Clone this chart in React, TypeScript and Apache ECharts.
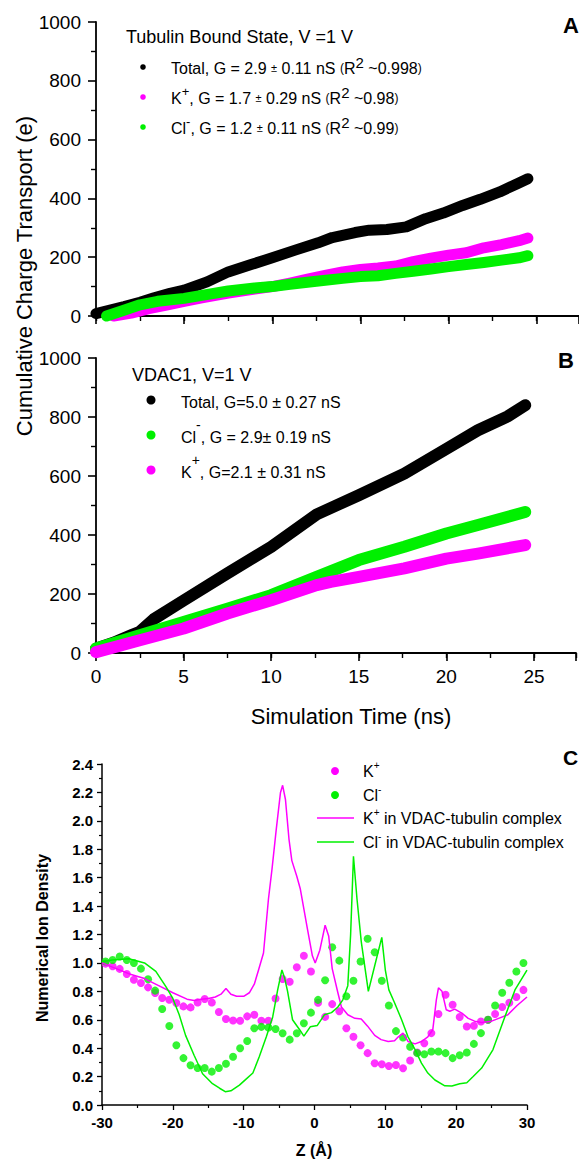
import React, { useEffect, useRef } from "react";
import * as echarts from "echarts";

const FONT = "'Liberation Sans', Arial, Helvetica, sans-serif";
const MAG = "#ff00ff";
const GRN = "#00f000";

// Panel A: tubulin bound state (time ns, charge e)
const aTotalT = [0, 0.8, 1.6, 2.5, 3.3, 4.2, 5, 6.3, 7.5, 8.8, 10, 11.3, 12.6, 13.4, 14.7, 15.5, 16.5, 17.6, 18.7, 19.7, 20.8, 21.8, 22.9, 23.9, 24.5];
const aTotalV = [8, 20, 32, 47, 62, 77, 88, 116, 150, 175, 198, 224, 249, 267, 284, 292, 294, 303, 331, 350, 376, 397, 422, 450, 467];
const aKT = [1, 2, 3, 4, 5, 6, 7.5, 9, 10, 11, 12, 13, 14, 15, 16, 17, 18, 19, 20, 21, 22, 23, 24, 24.5];
const aKV = [0, 10, 25, 37, 50, 62, 78, 92, 100, 112, 125, 138, 150, 158, 163, 170, 185, 197, 207, 215, 232, 243, 256, 265];
const aClT = [0.6, 1.5, 2.5, 3.5, 5, 6, 7.5, 9, 10, 11, 12.5, 14, 15, 16, 17, 18, 19, 20, 21, 22, 23, 24, 24.5];
const aClV = [0, 18, 38, 50, 60, 70, 85, 95, 100, 108, 118, 128, 134, 137, 145, 152, 160, 168, 175, 182, 190, 198, 205];

// Panel B: VDAC1
const bTotalT = [0, 1, 2, 2.5, 3.3, 5, 7.5, 10, 11.3, 12.6, 15, 17.6, 20, 21.8, 23.5, 24.5];
const bTotalV = [15, 35, 60, 72, 115, 178, 270, 360, 415, 470, 535, 608, 692, 755, 802, 840];
const bClT = [0, 2.5, 5, 7.5, 10, 12.6, 15, 17.6, 20, 21.8, 24.5];
const bClV = [15, 60, 105, 150, 196, 258, 315, 360, 405, 434, 478];
const bKT = [0, 2.5, 5, 7.5, 10, 12.6, 13.4, 15, 17.6, 20, 21.8, 24.5];
const bKV = [3, 43, 83, 134, 179, 230, 241, 258, 287, 320, 337, 366];

// Panel C: numerical ion density vs Z (Å)
const zBins = [-29.5, -28.5, -27.5, -26.5, -25.5, -24.5, -23.5, -22.5, -21.5, -20.5, -19.5, -18.5, -17.5, -16.5, -15.5, -14.5, -13.5, -12.5, -11.5, -10.5, -9.5, -8.5, -7.5, -6.5, -5.5, -4.5, -3.5, -2.5, -1.5, -0.5, 0.5, 1.5, 2.5, 3.5, 4.5, 5.5, 6.5, 7.5, 8.5, 9.5, 10.5, 11.5, 12.5, 13.5, 14.5, 15.5, 16.5, 17.5, 18.5, 19.5, 20.5, 21.5, 22.5, 23.5, 24.5, 25.5, 26.5, 27.5, 28.5, 29.5];
const kDots = [0.995, 0.976, 0.958, 0.922, 0.882, 0.859, 0.828, 0.788, 0.753, 0.741, 0.718, 0.694, 0.687, 0.722, 0.746, 0.722, 0.654, 0.605, 0.595, 0.593, 0.624, 0.635, 0.593, 0.593, 0.75, 0.887, 0.868, 0.969, 1.05, 0.94, 0.72, 0.62, 0.71, 0.66, 0.54, 0.48, 0.42, 0.365, 0.294, 0.287, 0.275, 0.282, 0.259, 0.313, 0.37, 0.435, 0.506, 0.64, 0.776, 0.706, 0.619, 0.553, 0.558, 0.588, 0.6, 0.64, 0.69, 0.72, 0.76, 0.81];
const clDots = [1.01, 1.02, 1.045, 1.02, 1.0, 0.96, 0.885, 0.805, 0.676, 0.556, 0.42, 0.33, 0.28, 0.26, 0.26, 0.235, 0.26, 0.29, 0.34, 0.4, 0.45, 0.54, 0.55, 0.545, 0.535, 0.505, 0.46, 0.505, 0.575, 0.65, 0.74, 0.878, 1.11, 1.016, 0.765, 0.875, 1.01, 1.17, 1.075, 0.875, 0.7, 0.52, 0.475, 0.41, 0.365, 0.357, 0.376, 0.376, 0.365, 0.33, 0.35, 0.37, 0.43, 0.506, 0.6, 0.7, 0.79, 0.86, 0.94, 1.0];
const kLineZ = [-30, -28, -26, -24, -22, -20, -18, -17, -16, -15, -14, -13.2, -12.5, -11.8, -11, -10, -9.2, -8.5, -7.9, -7.2, -6.5, -6, -5.4, -4.8, -4.5, -4.1, -3.6, -3.2, -2.5, -2, -1, -0.3, 0.1, 0.75, 1.5, 2, 2.5, 3.3, 3.8, 4.7, 5.7, 6.6, 7.5, 8.5, 9.4, 10.4, 11.3, 11.8, 12.5, 13.2, 14.2, 15.1, 16, 16.7, 17.2, 17.5, 18, 18.6, 19.1, 19.8, 20.8, 21.7, 22.6, 23.6, 25, 26, 27.3, 28.6, 30];
const kLineV = [1.0, 0.96, 0.92, 0.89, 0.84, 0.79, 0.745, 0.735, 0.745, 0.75, 0.76, 0.78, 0.82, 0.78, 0.765, 0.765, 0.79, 0.85, 0.95, 1.07, 1.45, 1.66, 1.94, 2.2, 2.25, 2.15, 1.87, 1.72, 1.61, 1.52, 1.24, 1.05, 1.0, 1.09, 1.265, 1.19, 0.96, 0.79, 0.69, 0.635, 0.61, 0.605, 0.555, 0.49, 0.46, 0.447, 0.452, 0.478, 0.506, 0.447, 0.43, 0.447, 0.48, 0.53, 0.74, 0.825, 0.8, 0.67, 0.66, 0.675, 0.647, 0.61, 0.59, 0.58, 0.59, 0.61, 0.635, 0.7, 0.76];
const clLineZ = [-30, -28.5, -26.2, -24, -22.4, -21, -20, -19.1, -18.2, -17, -15.8, -14.4, -13.4, -12.6, -11.8, -10.6, -9.7, -8.7, -7.8, -6.8, -5.9, -5.2, -4.6, -4.2, -3.8, -3.1, -2.1, -1.5, -0.6, 0.4, 1.4, 2.4, 3.3, 4.0, 4.7, 5.1, 5.5, 6.0, 6.6, 7.6, 8.5, 9.5, 10.0, 10.5, 11.3, 12.3, 13.2, 14.2, 15.1, 16, 17, 18.4, 19.4, 20.5, 21.5, 22.4, 23.6, 25.2, 26.8, 28.3, 30];
const clLineV = [1.01, 1.02, 1.03, 1.0, 0.94, 0.835, 0.75, 0.635, 0.49, 0.35, 0.22, 0.15, 0.118, 0.094, 0.1, 0.14, 0.18, 0.225, 0.34, 0.48, 0.62, 0.81, 0.95, 0.89, 0.8, 0.6, 0.53, 0.485, 0.55, 0.56, 0.635, 0.65, 0.69, 0.74, 0.84, 1.2, 1.75, 1.45, 1.15, 0.8, 0.98, 1.18, 0.95, 0.81, 0.72, 0.6, 0.48, 0.39, 0.295, 0.225, 0.176, 0.135, 0.134, 0.15, 0.157, 0.2, 0.26, 0.39, 0.61, 0.81, 0.95];

const zip = (xs: number[], ys: number[]) => xs.map((x, i) => [x, ys[i]]);

const txt = (x: number, y: number, text: string, size: number, opts: any = {}) => ({
  type: "text",
  x,
  y,
  rotation: opts.rotation || 0,
  style: {
    text,
    fill: "#000",
    fontSize: size,
    fontFamily: FONT,
    fontWeight: opts.bold ? "bold" : "normal",
    align: opts.align || "left",
    verticalAlign: "middle",
    textAlign: opts.align || "left",
    textVerticalAlign: "middle",
    rich: opts.rich,
  },
});

const richA = {
  n: { fontSize: 16, fontFamily: FONT, fill: "#000", lineHeight: 26 },
  s: { fontSize: 11, fontFamily: FONT, fill: "#000", lineHeight: 26 },
  p: { fontSize: 12, fontFamily: FONT, fill: "#000", lineHeight: 26 },
  u: { fontSize: 15, fontFamily: FONT, fill: "#000", verticalAlign: "top", lineHeight: 15 },
  k: { fontSize: 13, fontFamily: FONT, fill: "#000", verticalAlign: "top", lineHeight: 13 },
};
const richB = {
  n: { fontSize: 16, fontFamily: FONT, fill: "#000", lineHeight: 38 },
  k: { fontSize: 14, fontFamily: FONT, fill: "#000", verticalAlign: "top", lineHeight: 14 },
};
const richC = {
  n: { fontSize: 16, fontFamily: FONT, fill: "#000", lineHeight: 22 },
  k: { fontSize: 10, fontFamily: FONT, fill: "#000", verticalAlign: "top", lineHeight: 10 },
};

const abYAxis = (gridIndex: number) => ({
  type: "value",
  gridIndex,
  min: 0,
  max: 1000,
  interval: 200,
  axisLine: { show: true, lineStyle: { color: "#000", width: 1.8 } },
  axisTick: { show: true, inside: false, length: 8, lineStyle: { color: "#000", width: 1.6 } },
  minorTick: { show: true, splitNumber: 2, length: 5, lineStyle: { color: "#000", width: 1.4 } },
  splitLine: { show: false },
  minorSplitLine: { show: false },
  axisLabel: {
    show: true,
    fontSize: 19,
    fontFamily: FONT,
    color: "#000",
    margin: 15,
    formatter: (v: number) => String(v),
  },
});

const abXAxis = (gridIndex: number, major: boolean, labels: boolean) => ({
  type: "value",
  gridIndex,
  position: "bottom",
  offset: 0,
  min: 0,
  max: 27.4,
  interval: major ? 5 : 2.5,
  axisLine: { show: major, onZero: false, lineStyle: { color: "#000", width: 1.8 } },
  axisTick: { show: true, inside: false, length: major ? 8 : 5, lineStyle: { color: "#000", width: major ? 1.6 : 1.4 } },
  splitLine: { show: false },
  axisLabel: {
    show: labels,
    fontSize: 19,
    fontFamily: FONT,
    color: "#000",
    margin: 14,
    formatter: (v: number) => (Math.abs(v % 5) < 1e-6 && v <= 25 ? String(v) : ""),
  },
});

const band = (name: string, data: number[][], color: string, xi: number, yi: number, w: number) => ({
  name,
  type: "line",
  xAxisIndex: xi,
  yAxisIndex: yi,
  data,
  showSymbol: false,
  clip: false,
  smooth: false,
  lineStyle: { color, width: w, cap: "round", join: "round" },
  itemStyle: { color },
});

export default function App() {
  const ref = useRef<HTMLDivElement>(null);
  useEffect(() => {
    const chart = echarts.init(ref.current!, null, { renderer: "svg" });
    const option: any = {
      animation: false,
      backgroundColor: "#fff",
      grid: [
        { left: 96, right: 0, top: 22, height: 294 },
        { left: 96, right: 0, top: 358, height: 295 },
        { left: 102, width: 425, top: 764, height: 341 },
      ],
      xAxis: [
        abXAxis(0, true, false),
        abXAxis(0, false, false),
        abXAxis(1, true, true),
        abXAxis(1, false, false),
        {
          type: "value",
          gridIndex: 2,
          position: "bottom",
          min: -30,
          max: 30,
          interval: 10,
          axisLine: { show: true, onZero: false, lineStyle: { color: "#000", width: 1.5 } },
          axisTick: { show: true, inside: false, length: 5, lineStyle: { color: "#000", width: 1.3 } },
          minorTick: { show: true, splitNumber: 2, length: 3, lineStyle: { color: "#000", width: 1.2 } },
          splitLine: { show: false },
          axisLabel: { fontSize: 15, fontWeight: "bold", fontFamily: FONT, color: "#000", margin: 10 },
        },
      ],
      yAxis: [
        abYAxis(0),
        abYAxis(1),
        {
          type: "value",
          gridIndex: 2,
          min: 0,
          max: 2.4,
          interval: 0.2,
          axisLine: { show: true, onZero: false, lineStyle: { color: "#000", width: 1.5 } },
          axisTick: { show: true, inside: false, length: 5, lineStyle: { color: "#000", width: 1.3 } },
          minorTick: { show: true, splitNumber: 2, length: 3, lineStyle: { color: "#000", width: 1.2 } },
          splitLine: { show: false },
          axisLabel: {
            fontSize: 15,
            fontWeight: "bold",
            fontFamily: FONT,
            color: "#000",
            margin: 9,
            formatter: (v: number) => v.toFixed(1),
          },
        },
      ],
      series: [
        band("A Total", zip(aTotalT, aTotalV), "#000", 0, 0, 11),
        band("A K+", zip(aKT, aKV), MAG, 0, 0, 11),
        band("A Cl-", zip(aClT, aClV), GRN, 0, 0, 11),
        band("B Total", zip(bTotalT, bTotalV), "#000", 2, 1, 12),
        band("B Cl-", zip(bClT, bClV), GRN, 2, 1, 12),
        band("B K+", zip(bKT, bKV), MAG, 2, 1, 12),
        {
          name: "K+",
          type: "scatter",
          xAxisIndex: 4,
          yAxisIndex: 2,
          data: zip(zBins, kDots),
          symbol: "circle",
          symbolSize: 8,
          itemStyle: { color: MAG },
        },
        {
          name: "Cl-",
          type: "scatter",
          xAxisIndex: 4,
          yAxisIndex: 2,
          data: zip(zBins, clDots),
          symbol: "circle",
          symbolSize: 8,
          itemStyle: { color: GRN },
        },
        {
          name: "K+ in VDAC-tubulin complex",
          type: "line",
          xAxisIndex: 4,
          yAxisIndex: 2,
          data: zip(kLineZ, kLineV),
          showSymbol: false,
          lineStyle: { color: MAG, width: 1.5 },
          itemStyle: { color: MAG },
        },
        {
          name: "Cl- in VDAC-tubulin complex",
          type: "line",
          xAxisIndex: 4,
          yAxisIndex: 2,
          data: zip(clLineZ, clLineV),
          showSymbol: false,
          lineStyle: { color: GRN, width: 1.5 },
          itemStyle: { color: GRN },
        },
      ],
      graphic: [
        // axis titles
        txt(24, 276, "Cumulative Charge Transport (e)", 22, { rotation: Math.PI / 2, align: "center" }),
        txt(351, 716, "Simulation Time (ns)", 22, { align: "center" }),
        txt(42, 938, "Numerical Ion Density", 16, { rotation: Math.PI / 2, align: "center", bold: true }),
        txt(314, 1150, "Z (Å)", 16, { align: "center", bold: true }),
        // panel letters
        txt(563, 25, "A", 22, { bold: true }),
        txt(558, 360, "B", 22, { bold: true }),
        txt(563, 757, "C", 21, { bold: true }),
        // legend A
        txt(126, 37, "Tubulin Bound State, V =1 V", 18),
        { type: "circle", shape: { cx: 143, cy: 67, r: 2.8 }, style: { fill: "#000" } },
        { type: "circle", shape: { cx: 143, cy: 97, r: 2.8 }, style: { fill: MAG } },
        { type: "circle", shape: { cx: 143, cy: 127, r: 2.8 }, style: { fill: GRN } },
        txt(171, 68, "{n|Total, G = 2.9 }{s|±}{n| 0.11 nS }{p|(}{n|R}{u|2}{n| ~0.998}{p|)}", 16, { rich: richA }),
        txt(171, 98, "{n|K}{k|+}{n|, G = 1.7 }{s|±}{n| 0.29 nS }{p|(}{n|R}{u|2}{n| ~0.98}{p|)}", 16, { rich: richA }),
        txt(171, 128, "{n|Cl}{k|-}{n|, G = 1.2 }{s|±}{n| 0.11 nS }{p|(}{n|R}{u|2}{n| ~0.99}{p|)}", 16, { rich: richA }),
        // legend B
        txt(132, 375, "VDAC1, V=1 V", 18),
        { type: "circle", shape: { cx: 151, cy: 400, r: 4.5 }, style: { fill: "#000" } },
        { type: "circle", shape: { cx: 151, cy: 435, r: 4.5 }, style: { fill: GRN } },
        { type: "circle", shape: { cx: 151, cy: 470, r: 4.5 }, style: { fill: MAG } },
        txt(181, 402, "{n|Total, G=5.0 ± 0.27 nS}", 16, { rich: richB }),
        txt(181, 437, "{n|Cl}{k|-}{n|, G = 2.9± 0.19 nS}", 16, { rich: richB }),
        txt(181, 472, "{n|K}{k|+}{n|, G=2.1 ± 0.31 nS}", 16, { rich: richB }),
        // legend C
        { type: "circle", shape: { cx: 335, cy: 771, r: 4 }, style: { fill: MAG } },
        { type: "circle", shape: { cx: 335, cy: 795, r: 4 }, style: { fill: GRN } },
        { type: "line", shape: { x1: 317, y1: 818, x2: 354, y2: 818 }, style: { stroke: MAG, lineWidth: 1.5 } },
        { type: "line", shape: { x1: 317, y1: 842, x2: 354, y2: 842 }, style: { stroke: GRN, lineWidth: 1.5 } },
        txt(363, 771, "{n|K}{k|+}", 16, { rich: richC }),
        txt(363, 795, "{n|Cl}{k|-}", 16, { rich: richC }),
        txt(363, 818, "{n|K}{k|+}{n| in VDAC-tubulin complex}", 16, { rich: richC }),
        txt(363, 842, "{n|Cl}{k|-}{n| in VDAC-tubulin complex}", 16, { rich: richC }),
      ],
    };
    chart.setOption(option);
    return () => chart.dispose();
  }, []);
  return (
    <div
      ref={ref}
      style={{ position: "absolute", left: 0, top: 0, width: 579, height: 1161, background: "#fff" }}
    />
  );
}
